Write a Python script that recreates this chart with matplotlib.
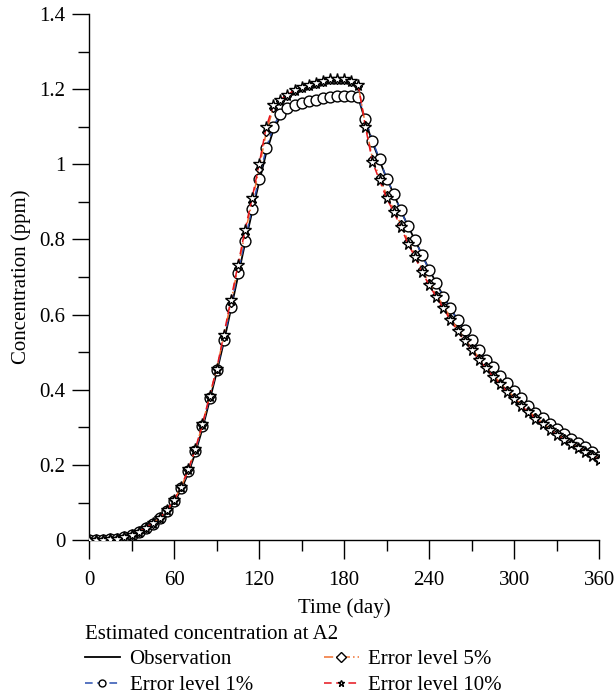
import numpy as np
import matplotlib
matplotlib.use("Agg")
import matplotlib.pyplot as plt
from matplotlib.ticker import MultipleLocator

plt.rcParams['font.family'] = ['Liberation Serif', 'DejaVu Serif']

# sampling days (every 5 days)
days = np.arange(0, 361, 5)

observation = [0.000, 0.000, 0.001, 0.002, 0.004, 0.008, 0.013, 0.020, 0.030, 0.042,
               0.056, 0.075, 0.100, 0.134, 0.178, 0.232, 0.296, 0.370, 0.445, 0.525,
               0.612, 0.700, 0.788, 0.872, 0.952, 1.030, 1.090, 1.127, 1.145, 1.154,
               1.161, 1.166, 1.171, 1.175, 1.178, 1.180, 1.181, 1.180, 1.176, 1.115,
               1.058, 1.010, 0.962, 0.921, 0.877, 0.836, 0.798, 0.759, 0.720, 0.684,
               0.649, 0.617, 0.586, 0.558, 0.532, 0.506, 0.481, 0.459, 0.437, 0.417,
               0.397, 0.377, 0.358, 0.340, 0.324, 0.309, 0.295, 0.282, 0.270, 0.258,
               0.247, 0.235, 0.222]

err1 = [0.000, 0.000, 0.001, 0.002, 0.004, 0.008, 0.014, 0.021, 0.031, 0.043,
        0.058, 0.077, 0.103, 0.138, 0.183, 0.238, 0.303, 0.379, 0.452, 0.532,
        0.621, 0.711, 0.797, 0.882, 0.962, 1.042, 1.100, 1.135, 1.150, 1.157,
        1.163, 1.168, 1.172, 1.176, 1.180, 1.182, 1.182, 1.182, 1.180, 1.120,
        1.063, 1.013, 0.962, 0.922, 0.877, 0.835, 0.798, 0.758, 0.718, 0.683,
        0.647, 0.617, 0.585, 0.558, 0.532, 0.505, 0.480, 0.460, 0.436, 0.417,
        0.396, 0.377, 0.357, 0.339, 0.324, 0.308, 0.295, 0.282, 0.269, 0.258,
        0.248, 0.235, 0.222]

err5 = [0.000, 0.000, 0.001, 0.002, 0.004, 0.008, 0.014, 0.022, 0.032, 0.044,
        0.059, 0.079, 0.106, 0.141, 0.186, 0.241, 0.306, 0.382, 0.455, 0.541,
        0.632, 0.724, 0.815, 0.900, 0.988, 1.085, 1.150, 1.168, 1.182, 1.194,
        1.203, 1.208, 1.214, 1.219, 1.223, 1.225, 1.224, 1.220, 1.208, 1.105,
        1.015, 0.965, 0.918, 0.880, 0.840, 0.797, 0.760, 0.720, 0.685, 0.653,
        0.623, 0.591, 0.562, 0.536, 0.510, 0.485, 0.462, 0.440, 0.419, 0.399,
        0.380, 0.362, 0.344, 0.327, 0.312, 0.297, 0.284, 0.271, 0.259, 0.248,
        0.238, 0.228, 0.217]

err10 = [0.000, 0.000, 0.001, 0.002, 0.004, 0.008, 0.014, 0.022, 0.032, 0.045,
         0.060, 0.080, 0.107, 0.142, 0.188, 0.243, 0.308, 0.383, 0.455, 0.545,
         0.638, 0.731, 0.824, 0.909, 1.000, 1.099, 1.157, 1.172, 1.185, 1.197,
         1.206, 1.210, 1.216, 1.222, 1.226, 1.228, 1.226, 1.222, 1.210, 1.100,
         1.006, 0.957, 0.909, 0.873, 0.833, 0.789, 0.753, 0.713, 0.678, 0.647,
         0.617, 0.585, 0.556, 0.530, 0.505, 0.480, 0.457, 0.435, 0.414, 0.395,
         0.376, 0.358, 0.340, 0.323, 0.308, 0.293, 0.280, 0.267, 0.255, 0.244,
         0.234, 0.224, 0.213]

yticks = [0, 0.2, 0.4, 0.6, 0.8, 1.0, 1.2, 1.4]
ytick_labels = ['0', '0.2', '0.4', '0.6', '0.8', '1', '1.2', '1.4']

fs = 15

fig = plt.figure(figsize=(6.14, 6.96), dpi=100)
ax = fig.add_axes([0.145, 0.224, 0.831, 0.756])

ax.plot(days, observation, color='black', lw=1.3, label='Observation', zorder=3)
ax.plot(days, err1, color='#2a4fb0', lw=1.1, ls=(0, (5, 3)), marker='o', ms=7.8,
        mfc='white', mec='black', mew=1.0, label='Error level 1%', zorder=4)
ax.plot(days, err5, color='#f07030', lw=1.1, ls=(0, (6, 2, 1, 2)), marker='D', ms=4,
        mfc='white', mec='black', mew=1.0, label='Error level 5%', zorder=5)
ax.plot(days, err10, color='#e5141c', lw=1.1, ls=(0, (5, 3)), marker='*', ms=8.5,
        mfc='white', mec='black', mew=1.0, label='Error level 10%', zorder=6)

ax.set_xlim(0, 360)
ax.set_ylim(0, 1.4)
ax.xaxis.set_major_locator(MultipleLocator(60))
ax.xaxis.set_minor_locator(MultipleLocator(30))
ax.yaxis.set_minor_locator(MultipleLocator(0.1))
ax.set_yticks(yticks)
ax.set_yticklabels(ytick_labels)

for s in ['top', 'right']:
    ax.spines[s].set_visible(False)
for s in ['left', 'bottom']:
    ax.spines[s].set_linewidth(1.0)

ax.tick_params(axis='x', which='major', direction='out', length=14, width=1.0,
               labelsize=fs, pad=8)
ax.tick_params(axis='x', which='minor', direction='out', length=8, width=1.0)
ax.tick_params(axis='y', which='major', direction='out', length=12, width=1.0,
               labelsize=fs, pad=5)
ax.tick_params(axis='y', which='minor', direction='out', length=8, width=1.0)

ax.set_xlabel('Time (day)', fontsize=fs, labelpad=6)
ax.set_ylabel('Concentration (ppm)', fontsize=fs, labelpad=6)

leg = fig.legend(loc='upper left', bbox_to_anchor=(0.138, 0.102), ncol=2,
                 title='Estimated concentration at A2', title_fontsize=fs,
                 fontsize=fs, frameon=False, alignment='left',
                 handlelength=1.7, handletextpad=0.45, columnspacing=3.4,
                 labelspacing=0.28, borderaxespad=0, borderpad=0)
for h in leg.legend_handles:
    h.set_markersize(5)

fig.savefig('out.png', dpi=100)
